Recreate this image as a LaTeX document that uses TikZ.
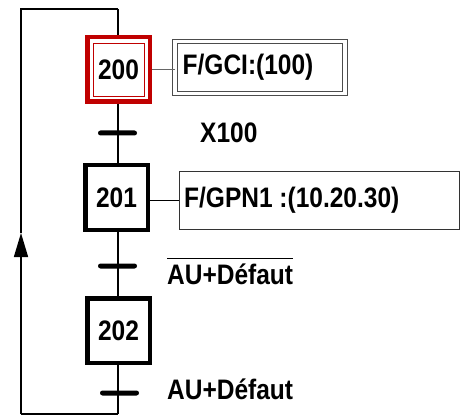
\documentclass[tikz,border=0pt]{standalone}
\usepackage{fontspec}
\setmainfont{Liberation Sans}
\usepackage{graphicx}
\usetikzlibrary{arrows.meta}
\definecolor{rougeetape}{HTML}{C00000}
\newcommand\grafTxt[1]{\scalebox{1}[1.15]{\bfseries #1}}

\begin{document}
\begin{tikzpicture}[x=1pt, y=1pt, font=\fontsize{24.5}{28}\selectfont,
	etape/.style={draw, line width=4.5pt, minimum width=62.5pt, minimum height=64.5pt, inner sep=0pt},
	etapeactive/.style={etape, draw=rougeetape},
	transbar/.style={fill=black, minimum width=39pt, minimum height=5pt, inner sep=0pt, rounded corners=2.5pt},
	action/.style={draw=black!80, line width=1pt, inner sep=0pt, anchor=west},
	recept/.style={inner sep=0pt, anchor=west},
	lien/.style={line width=1.5pt}]
			%%%%% START %%%%%
			\useasboundingbox (0, 0) rectangle (464, 416);
			
			% etapes
			\node[etapeactive] (e200) at (118.5, 346.5) {\grafTxt{200}};
			\draw[rougeetape, line width=0.8pt] ([shift={(8, -8)}]e200.north west) rectangle ([shift={(-8, 8)}]e200.south east);
			\node[etape] (e201) at (116.5, 218.5) {\grafTxt{201}};
			\node[etape] (e202) at (118.5, 85.5) {\grafTxt{202}};
			
			% transitions
			\node[transbar] (t1) at (117.5, 283) {};
			\node[transbar] (t2) at (117.5, 150) {};
			\node[transbar] (t3) at (119.5, 23) {};
			
			\node[recept] (r1) at (200, 283) {\grafTxt{X100}};
			\node[recept] (r2) at (167, 142) {\grafTxt{AU+Défaut}};
			\draw[line width=1.5pt] ([yshift=5]r2.north west) -- ([yshift=5]r2.north east);
			\node[recept] (r3) at (167, 27) {\grafTxt{AU+Défaut}};
			
			% actions
			\node[action, draw=black!70, double, double distance=3.5pt, minimum width=170pt, minimum height=52pt] (a200) at (174.5, 348.5) {};
			\node[recept] at ([xshift=8]a200.west) {\grafTxt{F/GCI:(100)}};
			\node[action, minimum width=280pt, minimum height=57pt] (a201) at (179, 215.5) {};
			\node[recept] at ([xshift=5]a201.west) {\grafTxt{F/GPN1 :(10.20.30)}};
			
			\draw[black!60, line width=1.2pt] (e200.east) -- (e200.east -| a200.west);
			\draw[line width=1.2pt] (a201.west -| e201.east) -- (a201.west);
			
			% liaisons
			\coordinate (haut) at (118, 407);
			\coordinate (bas) at (118, 2);
			\coordinate (gauche haut) at (21, 407);
			\coordinate (gauche bas) at (21, 2);
			\coordinate (fleche) at (21, 183);
			
			\draw[lien] (haut) -- (e200.north -| haut);
			\draw[lien] (e200.south -| haut) -- (e201.north -| haut);
			\draw[lien] (e201.south -| haut) -- (e202.north -| haut);
			\draw[lien] (e202.south -| haut) -- (bas);
			\draw[lien] (bas) -- (gauche bas);
			\draw[lien, -{Triangle[length=24pt, width=14pt]}] (gauche bas) -- (fleche);
			\draw[lien] (fleche) -- (gauche haut) -- (haut);
			
			%%%%% END %%%%%
\end{tikzpicture}
\end{document}
